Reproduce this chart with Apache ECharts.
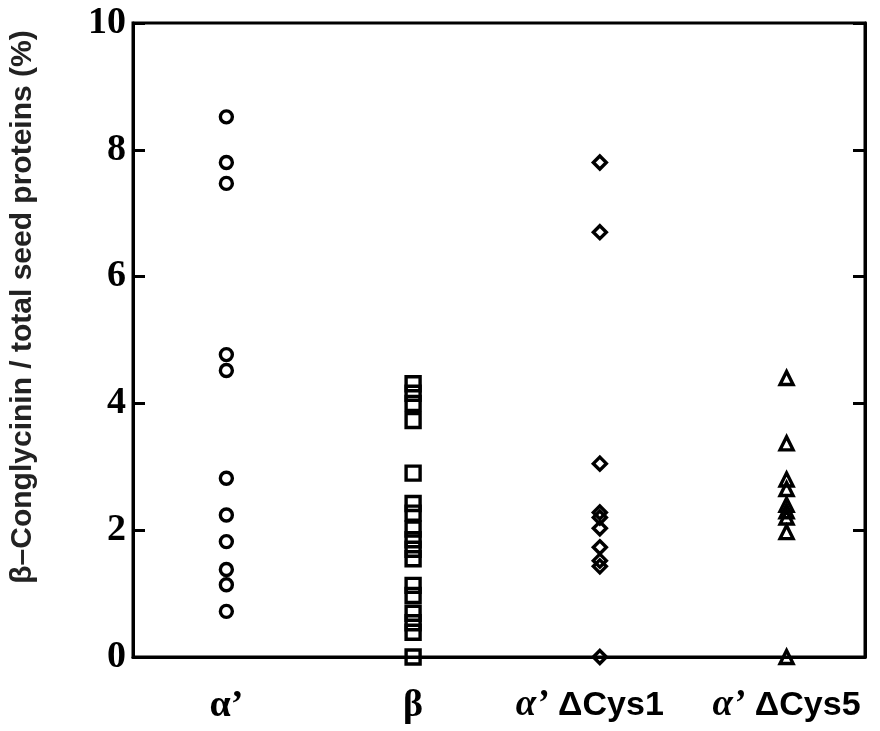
<!DOCTYPE html>
<html>
<head>
<meta charset="utf-8">
<script src="https://cdn.jsdelivr.net/npm/echarts@6/dist/echarts.min.js"></script>
<style>
  html, body { margin: 0; padding: 0; background: #fff; }
  #chart { width: 880px; height: 731px; }
</style>
</head>
<body>
<div id="chart"></div>
<script>
// groups along the x axis
const categories = ['α’', 'β', 'α’ ΔCys1', 'α’ ΔCys5']

// β-conglycinin content (%) per line
const alphaPrime = [8.52, 7.8, 7.47, 4.77, 4.52, 2.82, 2.24, 1.82, 1.38, 1.14, 0.72]
const beta = [4.31, 4.16, 4.0, 3.73, 2.9, 2.42, 2.27, 2.02, 1.85, 1.7, 1.55, 1.13, 0.97, 0.69, 0.54, 0.39, 0]
const alphaCys1 = [7.8, 6.7, 3.05, 2.28, 2.2, 2.03, 1.73, 1.52, 1.43, 0]
const alphaCys5 = [4.4, 3.37, 2.8, 2.65, 2.4, 2.3, 2.2, 1.97, 0]

const yTicks = [0, 2, 4, 6, 8, 10]

const groups = [
  { values: alphaPrime, symbol: 'circle', size: 12 },
  { values: beta, symbol: 'rect', size: 14 },
  { values: alphaCys1, symbol: 'diamond', size: 13 },
  { values: alphaCys5, symbol: 'triangle', size: 13 }
]

const chart = echarts.init(document.getElementById('chart'))

function xLabel(v) {
  const name = categories[v - 1]
  if (!name) return ''
  if (v <= 2) return '{s|' + name + '}'
  const parts = name.split(' ')
  // the ΔCys1 label sits a little left of its points in the original
  const tail = v === 3 ? '{gap|}' : ''
  return '{i|' + parts[0] + '}{b| ' + parts[1] + '}' + tail
}

const rightTicks = {
  type: 'value',
  position: 'right',
  min: yTicks[0],
  max: yTicks[yTicks.length - 1],
  interval: 2,
  axisLine: { show: true, lineStyle: { color: '#000', width: 3 } },
  axisTick: { show: true, inside: true, length: 12, lineStyle: { color: '#000', width: 3 } },
  splitLine: { show: false },
  axisLabel: { show: false }
}

chart.setOption({
  animation: false,
  grid: {
    left: 133, right: 15, top: 23, bottom: 74,
    show: true, borderColor: '#000', borderWidth: 3, backgroundColor: 'transparent'
  },
  xAxis: {
    type: 'value',
    min: 0.5,
    max: 4.42,
    axisLine: { show: true, lineStyle: { color: '#000', width: 3 } },
    axisTick: { show: false },
    splitLine: { show: false },
    axisLabel: {
      customValues: [1, 2, 3, 4],
      margin: 30,
      formatter: xLabel,
      rich: {
        s: { fontFamily: 'Liberation Serif', fontWeight: 'bold', fontSize: 38, color: '#000' },
        i: { fontFamily: 'Liberation Serif', fontStyle: 'italic', fontWeight: 'bold', fontSize: 37, color: '#000' },
        b: { fontFamily: 'Liberation Sans', fontWeight: 'bold', fontSize: 34, color: '#000' },
        gap: { width: 20 }
      }
    }
  },
  yAxis: [
    {
      type: 'value',
      min: yTicks[0],
      max: yTicks[yTicks.length - 1],
      interval: 2,
      axisLine: { show: true, lineStyle: { color: '#000', width: 3 } },
      axisTick: { show: true, inside: true, length: 12, lineStyle: { color: '#000', width: 3 } },
      splitLine: { show: false },
      axisLabel: {
        margin: 7,
        fontFamily: 'Liberation Serif',
        fontWeight: 'bold',
        fontSize: 38,
        color: '#000'
      }
    },
    rightTicks
  ],
  graphic: [{
    type: 'text',
    x: 23,
    y: 307,
    rotation: Math.PI / 2,
    style: {
      text: 'β–Conglycinin / total seed proteins (%)',
      fontFamily: 'Liberation Sans',
      fontWeight: 'bold',
      fontSize: 30,
      fill: '#222',
      align: 'center',
      verticalAlign: 'middle'
    }
  }],
  series: groups.map((g, i) => ({
    type: 'scatter',
    symbol: g.symbol,
    symbolSize: g.size,
    data: g.values.map(v => [i + 1, v]),
    itemStyle: { color: 'rgba(0,0,0,0)', borderColor: '#000', borderWidth: 3.4, opacity: 1 },
    clip: false
  }))
})
</script>
</body>
</html>
